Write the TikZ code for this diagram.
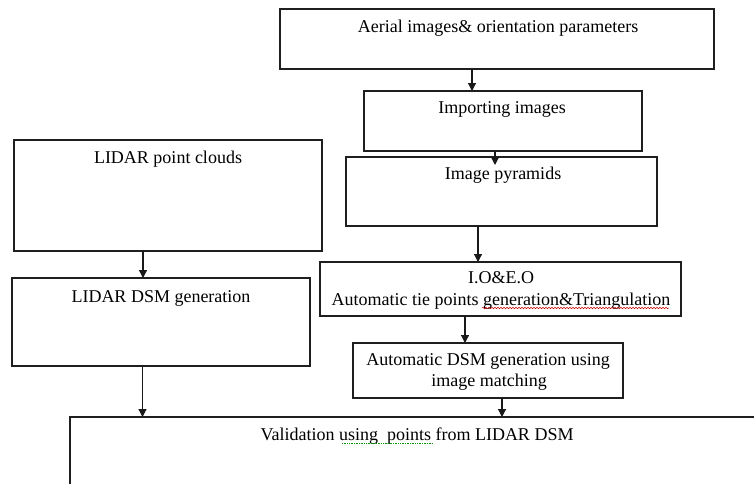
\documentclass[tikz,border=0pt]{standalone}
\usepackage{fontspec}
\setmainfont{Liberation Serif}
\usetikzlibrary{arrows.meta,decorations.pathmorphing}
\begin{document}
\begin{tikzpicture}[x=1pt,y=-1pt,
  box/.style={draw=black!88,line width=1.25pt,rectangle,inner sep=0pt,outer sep=0pt},
  txt/.style={anchor=base,inner sep=0pt,font=\fontsize{18}{21}\selectfont,text=black},
  arr/.style={draw=black!90,line width=1.2pt,-{Triangle[length=8pt,width=8pt]}},
  spellred/.style={draw=red!80!black,line width=0.5pt,decorate,decoration={snake,amplitude=0.8pt,segment length=3pt}},
  spellgreen/.style={draw=green!60!black,line width=0.7pt,densely dotted}]
\useasboundingbox (0,0) rectangle (754,483);
\clip (0,0) rectangle (754,483);
% boxes
\node[box,minimum width=434pt,minimum height=60pt] (A) at (497,39) {};
\node[box,minimum width=278pt,minimum height=60pt] (B) at (503,121) {};
\node[box,minimum width=311pt,minimum height=69pt] (C) at (501.5,191.5) {};
\node[box,minimum width=308pt,minimum height=111pt] (L1) at (168,195.5) {};
\node[box,minimum width=298pt,minimum height=88pt] (L2) at (161,322) {};
\node[box,minimum width=361pt,minimum height=54pt] (D) at (500.5,289) {};
\node[box,minimum width=270pt,minimum height=55pt] (E) at (488,370.5) {};
\node[box,minimum width=800pt,minimum height=200pt] (V) at (470,517) {};
% texts
\node[txt] (At) at (498,32) {Aerial images\& orientation parameters};
\node[txt] (Bt) at (502,113) {Importing images};
\node[txt] (Ct) at (503,179) {Image pyramids};
\node[txt] (L1t) at (168,163) {LIDAR point clouds};
\node[txt] (L2t) at (161,302) {LIDAR DSM generation};
\node[txt] (Dt1) at (501,283) {I.O\&E.O};
\node[txt] (Dt2) at (501,305) {Automatic tie points generation\&Triangulation};
\node[txt] (Et1) at (488,365) {Automatic DSM generation using};
\node[txt] (Et2) at (489,386) {image matching};
\node[txt] (Vt) at (417,440) {Validation using\ \ points from LIDAR DSM};
% spell-check marks
\draw[spellred] (482,308) -- (669,308);
\draw[spellgreen] (342,443.5) -- (433,443.5);
% connectors
\draw[arr] ([xshift=-25pt]A.south) -- ([xshift=-25pt]A.south |- B.north);
\draw[arr] ([xshift=-8pt]B.south) -- ([xshift=-8pt,yshift=-8pt]B.south |- C.north);
\draw[arr] ([xshift=-23.5pt]C.south) -- ([xshift=-23.5pt]C.south |- D.north);
\draw[arr] ([xshift=-25pt]L1.south) -- ([xshift=-25pt]L1.south |- L2.north);
\draw[arr] ([xshift=-35.5pt]D.south) -- ([xshift=-35.5pt]D.south |- E.north);
\draw[arr] ([xshift=14pt]E.south) -- ([xshift=14pt]E.south |- V.north);
\draw[arr] ([xshift=-18.5pt]L2.south) -- ([xshift=-18.5pt]L2.south |- V.north);
\end{tikzpicture}
\end{document}
